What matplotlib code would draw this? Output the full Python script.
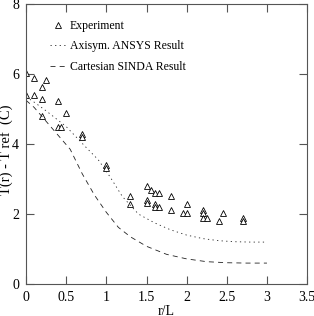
import matplotlib
matplotlib.use("Agg")
import matplotlib.pyplot as plt
from matplotlib.ticker import FuncFormatter

# experimental points (r/L, T(r) - Tref)
exp_x = [0.0, 0.1, 0.25, 0.2, 0.0, 0.1, 0.2, 0.4, 0.5, 0.2, 0.4, 0.44, 0.7, 0.7,
         1.0, 1.0, 1.3, 1.3, 1.5, 1.55, 1.6, 1.65, 1.5, 1.5, 1.6, 1.6, 1.65,
         1.8, 1.8, 2.0, 1.95, 2.0, 2.2, 2.2, 2.2, 2.25, 2.4, 2.45, 2.7, 2.7]
exp_y = [6.03, 5.9, 5.83, 5.63, 5.4, 5.4, 5.3, 5.23, 4.9, 4.8, 4.5, 4.5, 4.3, 4.2,
         3.4, 3.33, 2.51, 2.3, 2.81, 2.7, 2.61, 2.61, 2.4, 2.32, 2.3, 2.2, 2.2,
         2.51, 2.11, 2.3, 2.02, 2.02, 2.11, 2.02, 1.9, 1.9, 1.81, 2.02, 1.9, 1.81]

# axisymmetric ANSYS result
ansys_x = [0, 0.1, 0.25, 0.5, 0.75, 0.9, 1.05, 1.2, 1.4, 1.6, 1.8, 2.0, 2.2, 2.4,
           2.6, 2.8, 3.0]
ansys_y = [5.35, 5.2, 4.95, 4.5, 3.9, 3.55, 3.05, 2.5, 2.0, 1.75, 1.55, 1.4, 1.3,
           1.24, 1.21, 1.2, 1.2]

# cartesian SINDA result
sinda_x = [0, 0.1, 0.25, 0.4, 0.55, 0.7, 0.85, 1.0, 1.15, 1.3, 1.5, 1.75, 2.0,
           2.25, 2.5, 2.75, 3.0]
sinda_y = [5.25, 5.05, 4.65, 4.25, 3.85, 3.15, 2.55, 2.05, 1.62, 1.35, 1.08, 0.85,
           0.72, 0.64, 0.61, 0.6, 0.6]

x_ticks = [0, 0.5, 1, 1.5, 2, 2.5, 3, 3.5]
y_ticks = [0, 2, 4, 6, 8]

plt.rcParams["font.family"] = ["Liberation Serif", "DejaVu Serif"]
plt.rcParams["font.size"] = 10

fig = plt.figure(figsize=(3.14, 3.16), dpi=100)
ax = fig.add_axes([0.083, 0.101, 0.895, 0.886])

ax.plot(exp_x, exp_y, linestyle="none", marker="^", markersize=5,
        markerfacecolor="white", markeredgecolor="black", markeredgewidth=0.6,
        label="Experiment")
ax.plot(ansys_x, ansys_y, color="#222222", linewidth=0.6, linestyle=(0, (1.5, 4)),
        label="Axisym. ANSYS Result")
ax.plot(sinda_x, sinda_y, color="#222222", linewidth=0.6, linestyle=(0, (6, 5)),
        label="Cartesian SINDA Result")

ax.set_xlim(0, 3.5)
ax.set_ylim(0, 8)
ax.set_xticks(x_ticks)
ax.set_yticks(y_ticks)
ax.xaxis.set_major_formatter(FuncFormatter(lambda v, p: f"{v:g}"))
ax.tick_params(direction="in", top=True, right=True, length=6, width=0.8,
               color="#555555", pad=5)
for s in ax.spines.values():
    s.set_color("#555555")
    s.set_linewidth(0.8)

ax.set_xlabel("r/L", labelpad=1)
ax.set_ylabel("T(r) - T ref  (C)", fontsize=10.5)
ax.yaxis.set_label_coords(-0.046, 0.48)

leg = ax.legend(loc="upper left", bbox_to_anchor=(0.085, 0.944), frameon=False,
                fontsize=8.5, handlelength=1.3, handletextpad=0.4,
                labelspacing=0.72, borderpad=0, borderaxespad=0, numpoints=1)

fig.savefig("out.png", dpi=100)
